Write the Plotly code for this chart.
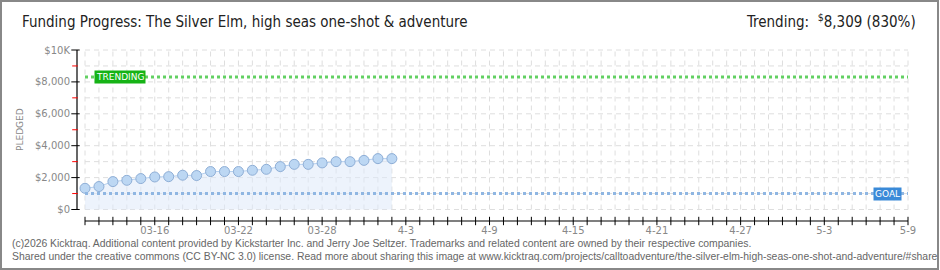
import datetime as dt
import plotly.graph_objects as go

# ---- data ----
dates = ["2026-03-11", "2026-03-12", "2026-03-13", "2026-03-14", "2026-03-15", "2026-03-16",
         "2026-03-17", "2026-03-18", "2026-03-19", "2026-03-20", "2026-03-21", "2026-03-22",
         "2026-03-23", "2026-03-24", "2026-03-25", "2026-03-26", "2026-03-27", "2026-03-28",
         "2026-03-29", "2026-03-30", "2026-03-31", "2026-04-01", "2026-04-02"]
pledged = [1330, 1440, 1750, 1830, 1940, 2040, 2060, 2150, 2130, 2380, 2380, 2380,
           2460, 2520, 2690, 2830, 2830, 2920, 3000, 3000, 3080, 3190, 3190]
goal = 1000
trending = 8309
x_start = "2026-03-11"
x_end = "2026-05-09"
xlabel_every = 6
xlabel_first = "2026-03-16"
xtick_text = ["03-16", "03-22", "03-28", "4-3", "4-9", "4-15", "4-21", "4-27", "5-3", "5-9"]
ytick_vals = [0, 2000, 4000, 6000, 8000, 10000]
ytick_text = ["$0", "$2,000", "$4,000", "$6,000", "$8,000", "$10K"]
yminor_vals = [1000, 3000, 5000, 7000, 9000]
y_top = 10000

title = "Funding Progress: The Silver Elm, high seas one-shot & adventure"
trend_text = "Trending:  <sup>$</sup>8,309 (830%)"
footer1 = ("(c)2026 Kicktraq. Additional content provided by Kickstarter Inc. and Jerry Joe Seltzer. "
           "Trademarks and related content are owned by their respective companies.")
footer2 = ("Shared under the creative commons (CC BY-NC 3.0) license. Read more about sharing this image at "
           "www.kicktraq.com/projects/calltoadventure/the-silver-elm-high-seas-one-shot-and-adventure/#share")

# ---- layout constants (pixels) ----
W, H = 940, 270
DATA_LEFT, DATA_RIGHT = 85, 908          # pixels of first / last date
DATA_ZERO, DATA_TOP = 209.5, 50          # pixels of $0 / $10K
AXIS_X, AXIS_Y = 77, 221                 # where the axis lines sit
PL, PR, PT, PB = 71, 912, 46, 227        # plot area (a little larger than the axes)
ML, MR, MT, MB = PL, W - PR, PT, H - PB
PW = PR - PL
PH = PB - PT

d0 = dt.datetime.fromisoformat(x_start)
d1 = dt.datetime.fromisoformat(x_end)
n_days = int((d1 - d0).days)
day_list = [(d0 + dt.timedelta(days=i)) for i in range(n_days + 1)]
first_lab = dt.datetime.fromisoformat(xlabel_first)
xtick_vals = [d.strftime("%Y-%m-%d") for d in day_list]
lab_iter = iter(xtick_text)
xtick_all_text = [next(lab_iter) if (d - first_lab).days >= 0 and (d - first_lab).days % xlabel_every == 0
                  else "" for d in day_list]

ppd = (DATA_RIGHT - DATA_LEFT) / n_days
ppu = (DATA_ZERO - DATA_TOP) / y_top


def xdate(pix):
    return d0 + dt.timedelta(days=(pix - DATA_LEFT) / ppd)


def yval(pix):
    return (DATA_ZERO - pix) / ppu


x_range = [xdate(PL), xdate(PR)]
y_range = [yval(PB), yval(PT)]
x_axis_pos = xdate(AXIS_X)
y_axis_pos = yval(AXIS_Y)
x_ytick_major = xdate(AXIS_X - 1.5)
x_ytick_minor = xdate(AXIS_X - 2.0)

yall_vals = sorted(ytick_vals + yminor_vals)
yall_text = [ytick_text[ytick_vals.index(v)] if v in ytick_vals else "" for v in yall_vals]

# gridline paths built from the tick arrays
grid_vx, grid_vy = [], []
for d in xtick_vals:
    grid_vx += [d, d, None]
    grid_vy += [0, y_top, None]
grid_hx, grid_hy = [], []
for v in yall_vals:
    grid_hx += [x_start, x_end, None]
    grid_hy += [v, v, None]


def px(xp):
    return (xp - PL) / PW


def py(yp):
    return (PB - yp) / PH


FONT = "DejaVu Sans"
NARROW = "Liberation Sans Narrow, DejaVu Sans Condensed, sans-serif"
GRID = "#dedede"

fig = go.Figure()

# dashed grid
fig.add_trace(go.Scatter(
    x=grid_vx, y=grid_vy, mode="lines", connectgaps=False,
    line=dict(color=GRID, width=1, dash="5px,4px"), showlegend=False, hoverinfo="skip",
))
fig.add_trace(go.Scatter(
    x=grid_hx, y=grid_hy, mode="lines", connectgaps=False,
    line=dict(color=GRID, width=1, dash="5px,4px"), showlegend=False, hoverinfo="skip",
))

fig.add_trace(go.Scatter(
    x=dates, y=pledged, mode="lines+markers",
    line=dict(color="#b5d0ef", width=1),
    marker=dict(size=10, color="#bcd7f3", line=dict(color="#8eaed6", width=1)),
    fill="tozeroy", fillcolor="rgba(222,234,250,0.55)",
    cliponaxis=False, showlegend=False, hoverinfo="skip",
))
fig.add_trace(go.Scatter(
    x=[x_start, x_end], y=[trending, trending], mode="lines",
    line=dict(color="#62d062", width=3, dash="dot"),
    showlegend=False, hoverinfo="skip",
))
fig.add_trace(go.Scatter(
    x=[x_start, x_end], y=[goal, goal], mode="lines",
    line=dict(color="#8fb6e2", width=3, dash="dot"),
    showlegend=False, hoverinfo="skip",
))

# axis lines and tick marks (inside the plot area so nothing clips them)
fig.add_trace(go.Scatter(
    x=[x_start, x_end], y=[y_axis_pos, y_axis_pos], mode="lines",
    line=dict(color="#000000", width=1.2), showlegend=False, hoverinfo="skip",
))
fig.add_trace(go.Scatter(
    x=[x_axis_pos, x_axis_pos], y=[0, y_top], mode="lines",
    line=dict(color="#000000", width=1.2), showlegend=False, hoverinfo="skip",
))
fig.add_trace(go.Scatter(
    x=xtick_vals, y=[y_axis_pos] * len(xtick_vals), mode="markers",
    marker=dict(symbol="line-ns", size=6, line=dict(color="black", width=1)),
    showlegend=False, hoverinfo="skip",
))
fig.add_trace(go.Scatter(
    x=[x_ytick_major] * len(ytick_vals), y=ytick_vals, mode="markers",
    marker=dict(symbol="line-ew", size=6, line=dict(color="black", width=1)),
    showlegend=False, hoverinfo="skip",
))
fig.add_trace(go.Scatter(
    x=[x_ytick_minor] * len(yminor_vals), y=yminor_vals, mode="markers",
    marker=dict(symbol="line-ew", size=4, line=dict(color="red", width=1)),
    showlegend=False, hoverinfo="skip",
))

fig.update_layout(
    width=W, height=H,
    margin=dict(l=ML, r=MR, t=MT, b=MB),
    paper_bgcolor="white", plot_bgcolor="white",
    xaxis=dict(
        type="date", range=[x_range[0].isoformat(sep=" "), x_range[1].isoformat(sep=" ")],
        tickmode="array", tickvals=xtick_vals, ticktext=xtick_all_text,
        showline=False, ticks="", ticklabelstandoff=-4,
        tickfont=dict(family=FONT, size=10, color="#888888"),
        showgrid=False, zeroline=False, fixedrange=True,
    ),
    yaxis=dict(
        range=y_range,
        tickmode="array", tickvals=yall_vals, ticktext=yall_text,
        showline=False, ticks="",
        tickfont=dict(family=FONT, size=10, color="#888888"),
        showgrid=False, zeroline=False, fixedrange=True,
    ),
)

annotations = [
    dict(text=title, xref="paper", yref="paper", x=px(20), y=py(22),
         xanchor="left", yanchor="middle", showarrow=False,
         font=dict(family=NARROW, size=15, color="#222222")),
    dict(text=trend_text, xref="paper", yref="paper", x=px(918), y=py(21),
         xanchor="right", yanchor="middle", showarrow=False,
         font=dict(family=NARROW, size=15, color="#222222")),
    dict(text="PLEDGED", xref="paper", yref="paper", x=px(20), y=py(130),
         xanchor="center", yanchor="middle", showarrow=False, textangle=-90,
         font=dict(family=FONT, size=9, color="#888888")),
    dict(text="TRENDING", xref="x", yref="y", x="2026-03-13 12:00", y=trending,
         showarrow=False, bgcolor="#16b316", borderpad=1,
         font=dict(family=FONT, size=9, color="white")),
    dict(text="GOAL", xref="x", yref="y", x="2026-05-07 12:00", y=goal,
         showarrow=False, bgcolor="#3a8ad8", borderpad=1,
         font=dict(family=FONT, size=9, color="white")),
    dict(text=footer1, xref="paper", yref="paper", x=px(10), y=py(243),
         xanchor="left", yanchor="middle", showarrow=False,
         font=dict(family="Liberation Sans, sans-serif", size=10.4, color="#666666")),
    dict(text=footer2, xref="paper", yref="paper", x=px(10), y=py(256),
         xanchor="left", yanchor="middle", showarrow=False,
         font=dict(family="Liberation Sans, sans-serif", size=10.4, color="#666666")),
]
fig.update_layout(annotations=annotations)

fig.add_shape(type="rect", xref="paper", yref="paper",
              x0=px(1), x1=px(938), y0=py(269), y1=py(1),
              line=dict(color="#888888", width=2), fillcolor="rgba(0,0,0,0)", layer="above")

fig.write_html("out.html")
